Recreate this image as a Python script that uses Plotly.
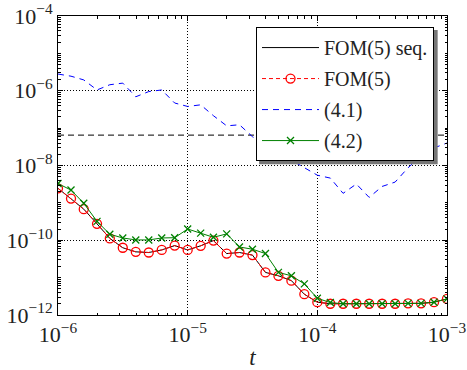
import plotly.graph_objects as go

t = [1.00e-6, 1.26e-6, 1.58e-6, 2.00e-6, 2.51e-6, 3.16e-6, 3.98e-6, 5.01e-6, 6.31e-6, 7.94e-6,
     1.00e-5, 1.26e-5, 1.58e-5, 2.00e-5, 2.51e-5, 3.16e-5, 3.98e-5, 5.01e-5, 6.31e-5, 7.94e-5,
     1.00e-4, 1.26e-4, 1.58e-4, 2.00e-4, 2.51e-4, 3.16e-4, 3.98e-4, 5.01e-4, 6.31e-4, 7.94e-4,
     1.00e-3]

fom5 = [2.45e-9, 1.30e-9, 6.8e-10, 2.75e-10, 1.12e-10, 6.3e-11, 4.9e-11, 4.7e-11, 5.5e-11, 7.2e-11,
        5.5e-11, 7.1e-11, 9.8e-11, 4.4e-11, 4.7e-11, 4.0e-11, 1.38e-11, 1.12e-11, 8.3e-12, 3.6e-12,
        2.2e-12, 2.0e-12, 2.0e-12, 2.0e-12, 2.0e-12, 2.0e-12, 2.0e-12, 2.05e-12, 2.05e-12, 2.2e-12,
        2.7e-12]

fom5_seq = [2.45e-9, 1.30e-9, 6.8e-10, 2.75e-10, 1.12e-10, 6.3e-11, 4.9e-11, 4.7e-11, 5.5e-11, 7.2e-11,
            5.5e-11, 7.1e-11, 9.8e-11, 4.4e-11, 4.7e-11, 4.0e-11, 1.38e-11, 1.12e-11, 8.3e-12, 3.6e-12,
            2.2e-12, 2.0e-12, 2.0e-12, 2.0e-12, 2.0e-12, 2.0e-12, 2.0e-12, 2.05e-12, 2.05e-12, 2.2e-12,
            2.7e-12]

est41 = [2.8e-6, 2.45e-6, 1.95e-6, 1.05e-6, 1.45e-6, 1.6e-6, 6.9e-7, 9.5e-7, 1.05e-6, 4.7e-7,
         3.8e-7, 4.2e-7, 2.15e-7, 1.15e-7, 1.23e-7, 5.9e-8, 3.5e-8, 2.2e-8, 1.4e-8, 8.9e-9,
         5.5e-9, 4.6e-9, 1.8e-9, 3.2e-9, 1.4e-9, 2.75e-9, 3.6e-9, 8.7e-9, 1.8e-8, 2.95e-8,
         4.0e-8]

est42 = [3.3e-9, 2.2e-9, 9.8e-10, 3.2e-10, 1.45e-10, 1.15e-10, 1.02e-10, 1.02e-10, 1.15e-10, 1.17e-10,
         2.0e-10, 1.55e-10, 1.2e-10, 1.48e-10, 6.6e-11, 5.75e-11, 4.4e-11, 1.38e-11, 1.12e-11, 6.8e-12,
         2.8e-12, 2.15e-12, 2.0e-12, 2.0e-12, 2.0e-12, 2.0e-12, 2.0e-12, 2.05e-12, 2.05e-12, 2.2e-12,
         2.7e-12]

tol_level = 6.5e-8
t_span = [1e-6, 1e-3]

y_tickvals = [1e-12, 1e-10, 1e-8, 1e-6, 1e-4]
y_ticktext = ["10<sup>−12</sup>", "10<sup>−10</sup>", "10<sup>−8</sup>", "10<sup>−6</sup>", "10<sup>−4</sup>"]
x_tickvals = [1e-6, 1e-5, 1e-4, 1e-3]
x_ticktext = ["10<sup>−6</sup>", "10<sup>−5</sup>", "10<sup>−4</sup>", "10<sup>−3</sup>"]

FONT = "Liberation Serif"
TXT = "#222"

fig = go.Figure()

fig.add_trace(go.Scatter(x=t_span, y=[tol_level, tol_level], mode="lines",
                         line=dict(color="black", width=1, dash="6px,4px"),
                         showlegend=False, hoverinfo="skip"))
fig.add_trace(go.Scatter(x=t, y=fom5_seq, mode="lines", name="FOM(5) seq.",
                         line=dict(color="black", width=1), legendgroup="a"))
fig.add_trace(go.Scatter(x=t, y=fom5, mode="lines+markers", name="FOM(5)",
                         line=dict(color="red", width=1, dash="4px,3px"),
                         marker=dict(symbol="circle-open", size=9, color="red", line=dict(width=1.3, color="red")),
                         legendgroup="b"))
fig.add_trace(go.Scatter(x=t, y=est41, mode="lines", name="(4.1)",
                         line=dict(color="blue", width=1, dash="6px,5px"), legendgroup="c"))
fig.add_trace(go.Scatter(x=t, y=est42, mode="lines+markers", name="(4.2)",
                         line=dict(color="green", width=1),
                         marker=dict(symbol="x-thin-open", size=7, color="green", line=dict(width=1.3, color="green")),
                         legendgroup="d"))

axis_common = dict(type="log", showline=True, linecolor="black", linewidth=1, mirror="allticks",
                   ticks="inside", ticklen=5, tickcolor="black", tickwidth=1,
                   showgrid=True, gridcolor="black", gridwidth=1, griddash="1px,2px",
                   zeroline=False, automargin=False,
                   tickfont=dict(family=FONT, size=22, color=TXT),
                   minor=dict(ticks="inside", ticklen=2.5, tickcolor="black", dtick="D1", showgrid=False))

fig.update_xaxes(range=[-6, -3], tickvals=x_tickvals, ticktext=x_ticktext,
                 title=dict(text="<i>t</i>", font=dict(family=FONT, size=23, color=TXT), standoff=2),
                 **axis_common)
fig.update_yaxes(range=[-12, -4], tickvals=y_tickvals, ticktext=y_ticktext, **axis_common)

# legend shadow
fig.add_shape(type="rect", xref="paper", yref="paper",
              x0=0.517, x1=0.976, y0=0.504, y1=0.953,
              fillcolor="#777", line=dict(width=0), layer="above")

fig.update_layout(
    width=467, height=370,
    margin=dict(l=58, r=20, t=16, b=55),
    paper_bgcolor="white", plot_bgcolor="white",
    showlegend=True,
    legend=dict(x=0.509, xanchor="left", y=0.963, yanchor="top",
                bgcolor="white", bordercolor="black", borderwidth=1,
                font=dict(family=FONT, size=20, color=TXT),
                itemwidth=57,
                tracegroupgap=2, traceorder="grouped"),
)

fig.write_html("out.html", config={"displayModeBar": False},
               post_script="document.body.style.margin='0';")
